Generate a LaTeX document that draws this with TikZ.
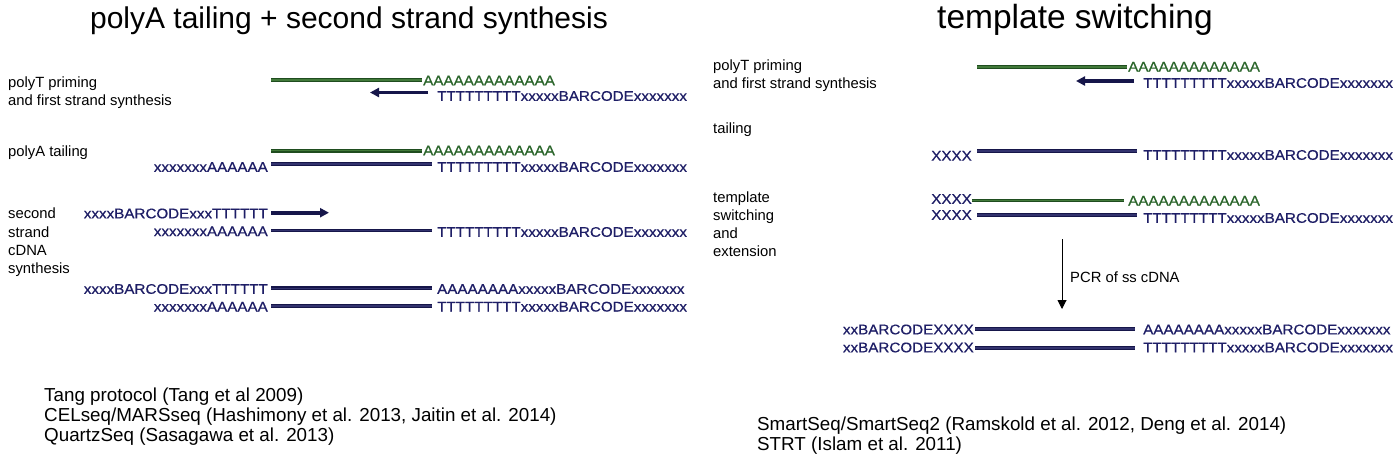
\documentclass[tikz,border=0pt]{standalone}
\usepackage{fontspec}
\setmainfont{Liberation Sans}
\newfontfamily\seqff[FakeStretch=1.085,FakeBold=0.6]{Liberation Sans}
\usetikzlibrary{arrows.meta}
\newcommand\seqfont{\seqff\fontsize{14}{15}\selectfont}
\newcommand\lblfont{\fontsize{14.8}{18}\selectfont}
\newcommand\citefont{\fontsize{18.8}{20}\selectfont}
\newcommand\ttlfont{\fontsize{30}{34}\selectfont}
\newcommand\ttlfontb{\fontsize{33.5}{36}\selectfont}
\definecolor{navytext}{HTML}{1E1E66}
\definecolor{greentext}{HTML}{2A652A}
\definecolor{ndark}{HTML}{16164A}
\definecolor{nlight}{HTML}{33336E}
\definecolor{gdark}{HTML}{1F4D1F}
\definecolor{glight}{HTML}{427A3A}
\tikzset{
  seq/.style={font=\seqfont, text=navytext, inner sep=0pt, anchor=west},
  seqr/.style={seq, anchor=east},
  gseq/.style={seq, text=greentext},
  lbl/.style={font=\lblfont, inner sep=0pt, anchor=base west},
  cite/.style={font=\citefont, inner sep=0pt, anchor=base west},
  ttl/.style={font=\ttlfont, inner sep=0pt, anchor=base},
  gstrand/.style={draw=gdark, double=glight, line width=1.2pt, double distance=1.4pt},
  nstrand/.style={draw=ndark, double=nlight, line width=1.3pt, double distance=1.3pt},
  narrow/.style={draw=ndark, line width=3.6pt, -{Triangle[length=9pt,width=9pt]}},
  pcrarrow/.style={draw=black, line width=1pt, -{Triangle[length=9pt,width=9pt]}},
}
\begin{document}
\begin{tikzpicture}[x=1pt,y=-1pt]
\useasboundingbox[fill=white] (0,0) rectangle (1400,464);

% titles
\node[ttl] (t1) at (349,28) {polyA tailing + second strand synthesis};
\node[ttl, font=\ttlfontb] (t2) at (1075,28) {template switching};

% ===== left panel =====
\node[lbl] (l1a) at (8,87) {polyT priming};
\node[lbl] (l1b) at (8,105) {and first strand synthesis};
\node[lbl] (l2) at (8,156) {polyA tailing};
\node[lbl] (l3a) at (8,218) {second};
\node[lbl] (l3b) at (8,237) {strand};
\node[lbl] (l3c) at (8,255) {cDNA};
\node[lbl] (l3d) at (8,273) {synthesis};

% row L1
\coordinate (L1gs) at (271,80);
\coordinate (L1ge) at (422,80);
\draw[gstrand] (L1gs) -- (L1ge);
\node[gseq] (L1A) at (423,80.5) {AAAAAAAAAAAAA};
\coordinate (L1as) at (428,92.5);
\coordinate (L1ae) at (370,92.5);
\draw[narrow] (L1as) -- (L1ae);
\node[seq] (L1T) at (437,96) {TTTTTTTTTxxxxxBARCODExxxxxxx};

% row L2
\coordinate (L2gs) at (271,150.7);
\coordinate (L2ge) at (422,150.7);
\draw[gstrand] (L2gs) -- (L2ge);
\node[gseq] (L2A) at (423,150.5) {AAAAAAAAAAAAA};
\node[seqr] (L2x) at (268,167) {xxxxxxxAAAAAA};
\coordinate (L2ns) at (271,164);
\coordinate (L2ne) at (432,164);
\draw[nstrand] (L2ns) -- (L2ne);
\node[seq] (L2T) at (437,167) {TTTTTTTTTxxxxxBARCODExxxxxxx};

% row L3
\node[seqr] (L3b) at (268,213.5) {xxxxBARCODExxxTTTTTT};
\coordinate (L3as) at (271,212.7);
\coordinate (L3ae) at (329,212.7);
\draw[narrow] (L3as) -- (L3ae);
\node[seqr] (L3x) at (268,231.3) {xxxxxxxAAAAAA};
\coordinate (L3ns) at (271,230.5);
\coordinate (L3ne) at (432,230.5);
\draw[nstrand] (L3ns) -- (L3ne);
\node[seq] (L3T) at (437,232) {TTTTTTTTTxxxxxBARCODExxxxxxx};

% row L4
\node[seqr] (L4b) at (268,289) {xxxxBARCODExxxTTTTTT};
\coordinate (L4ns) at (271,288.3);
\coordinate (L4ne) at (432,288.3);
\draw[nstrand] (L4ns) -- (L4ne);
\node[seq] (L4A) at (437,289) {AAAAAAAAxxxxxBARCODExxxxxxx};

% row L5
\node[seqr] (L5x) at (268,306.7) {xxxxxxxAAAAAA};
\coordinate (L5ns) at (271,306);
\coordinate (L5ne) at (432,306);
\draw[nstrand] (L5ns) -- (L5ne);
\node[seq] (L5T) at (437,306.7) {TTTTTTTTTxxxxxBARCODExxxxxxx};

% citations left
\node[cite] (c1) at (44,401) {Tang protocol (Tang et al 2009)};
\node[cite] (c2) at (44,421) {CELseq/MARSseq (Hashimony et al. 2013, Jaitin et al. 2014)};
\node[cite] (c3) at (44,441) {QuartzSeq (Sasagawa et al. 2013)};

% ===== right panel =====
\node[lbl] (r1a) at (713,70) {polyT priming};
\node[lbl] (r1b) at (713,88) {and first strand synthesis};
\node[lbl] (r2) at (713,133) {tailing};
\node[lbl] (r3a) at (713,202) {template};
\node[lbl] (r3b) at (713,220) {switching};
\node[lbl] (r3c) at (713,238) {and};
\node[lbl] (r3d) at (713,256) {extension};

% row R1
\coordinate (R1gs) at (977,67);
\coordinate (R1ge) at (1127,67);
\draw[gstrand] (R1gs) -- (R1ge);
\node[gseq] (R1A) at (1128,66.7) {AAAAAAAAAAAAA};
\coordinate (R1as) at (1134,81);
\coordinate (R1ae) at (1076,81);
\draw[narrow] (R1as) -- (R1ae);
\node[seq] (R1T) at (1143,83) {TTTTTTTTTxxxxxBARCODExxxxxxx};

% row R2
\node[seqr] (R2X) at (972,155.8) {XXXX};
\coordinate (R2ns) at (977,151);
\coordinate (R2ne) at (1137,151);
\draw[nstrand] (R2ns) -- (R2ne);
\node[seq] (R2T) at (1143,155) {TTTTTTTTTxxxxxBARCODExxxxxxx};

% row R3
\node[seqr] (R3X) at (972,199) {XXXX};
\coordinate (R3gs) at (972,200.5);
\coordinate (R3ge) at (1124,200.5);
\draw[gstrand] (R3gs) -- (R3ge);
\node[gseq] (R3A) at (1128,200.7) {AAAAAAAAAAAAA};

% row R4
\node[seqr] (R4X) at (972,215) {XXXX};
\coordinate (R4ns) at (977,215);
\coordinate (R4ne) at (1137,215);
\draw[nstrand] (R4ns) -- (R4ne);
\node[seq] (R4T) at (1143,218) {TTTTTTTTTxxxxxBARCODExxxxxxx};

% PCR arrow
\coordinate (Pa) at (1062,239);
\coordinate (Pb) at (1062,309);
\draw[pcrarrow] (Pa) -- (Pb);
\node[lbl, anchor=west] (pcr) at (1070,277) {PCR of ss cDNA};

% row R5
\node[seqr] (R5b) at (974,329.5) {xxBARCODEXXXX};
\coordinate (R5ns) at (975,329);
\coordinate (R5ne) at (1135,329);
\draw[nstrand] (R5ns) -- (R5ne);
\node[seq] (R5A) at (1143,329.5) {AAAAAAAAxxxxxBARCODExxxxxxx};

% row R6
\node[seqr] (R6b) at (974,347.5) {xxBARCODEXXXX};
\coordinate (R6ns) at (975,348);
\coordinate (R6ne) at (1135,348);
\draw[nstrand] (R6ns) -- (R6ne);
\node[seq] (R6T) at (1143,347.5) {TTTTTTTTTxxxxxBARCODExxxxxxx};

% citations right
\node[cite] (c4) at (757,430) {SmartSeq/SmartSeq2 (Ramskold et al. 2012, Deng et al. 2014)};
\node[cite] (c5) at (757,450) {STRT (Islam et al. 2011)};
\end{tikzpicture}
\end{document}
